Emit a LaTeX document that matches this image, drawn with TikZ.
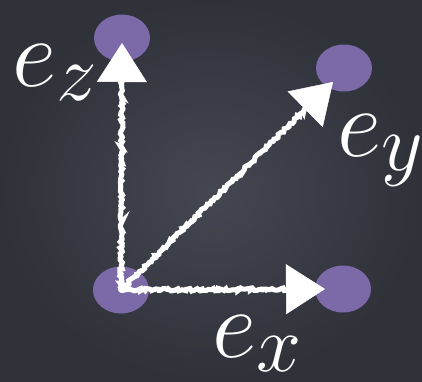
\documentclass[tikz,border=0pt]{standalone}
\usetikzlibrary{arrows.meta,decorations.pathmorphing,calc,shapes.geometric}
\definecolor{bgin}{RGB}{68,71,81}
\definecolor{bgout}{RGB}{48,50,58}
\definecolor{dot}{RGB}{124,105,168}
\begin{document}
\begin{tikzpicture}[x=1pt,y=1pt,
  dotnode/.style={ellipse,fill=dot,draw=none,minimum width=56pt,minimum height=47pt,inner sep=0pt},
  chalk/.style={white,line width=5pt,line cap=round,decorate,decoration={random steps,segment length=2pt,amplitude=1.3pt}},
  chalktip/.style={white,line width=0.5pt,-{Triangle[length=39pt,width=50pt]}},
  lab/.style={white,inner sep=0pt,anchor=base west,font=\Huge,scale=3.9,transform shape}]
\useasboundingbox (0,0) rectangle (422,-381);
\fill[inner color=bgin,outer color=bgout] (0,0) rectangle (422,-381);
% nodes
\node[dotnode] (o) at (121,-290) {};
\node[dotnode] (z) at (122,-38) {};
\node[dotnode] (y) at (344,-68) {};
\node[dotnode] (x) at (343,-289) {};
% tip coordinates and arrow bases
\coordinate (tz) at ($(z.center)+(0,-5)$);
\coordinate (tx) at ($(x.center)+(-18,0)$);
\coordinate (ty) at ($(y.center)+(-11,-14)$);
\coordinate (bz) at ($(tz)!32pt!(o.center)$);
\coordinate (bx) at ($(tx)!32pt!(o.center)$);
\coordinate (by) at ($(ty)!32pt!(o.center)$);
% connectors
\draw[chalk] (o.center) -- (bz);
\draw[chalk] (o.center) -- (by);
\draw[chalk] (o.center) -- (bx);
\draw[chalktip] (o.center) -- (tz);
\draw[chalktip] (o.center) -- (ty);
\draw[chalktip] (o.center) -- (tx);
% labels
\node[lab] (lz) at (12,-86) {$e_z$};
\node[lab] (ly) at (337,-156) {$e_y$};
\node[lab] (lx) at (212,-357) {$e_x$};
\end{tikzpicture}
\end{document}
